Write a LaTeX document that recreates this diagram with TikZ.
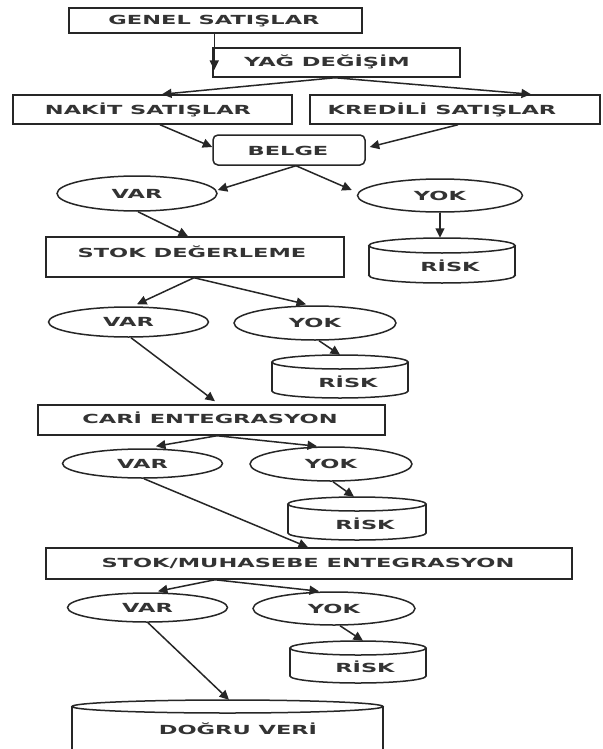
\documentclass[tikz,border=0pt]{standalone}
\usepackage{fontspec}
\newfontfamily\lblfont{DejaVu Sans}[FakeStretch=1.8]
\usetikzlibrary{arrows.meta,calc,shapes.geometric}
\tikzset{
  ln/.style={line width=1.5pt, draw=black!85},
  boxnode/.style={ln, rectangle, inner sep=0pt},
  roundnode/.style={ln, rectangle, rounded corners=5pt, inner sep=0pt},
  ovalnode/.style={ln, ellipse, inner sep=0pt, font=\lblfont\bfseries\fontsize{12.5}{14}\selectfont, text=black!80, text height=9pt, text depth=0pt},
  txt/.style={font=\lblfont\bfseries\fontsize{12.5}{14}\selectfont, text=black!80, inner sep=0pt, text height=9pt, text depth=0pt},
  arr/.style={ln, -{Triangle[length=9.5pt,width=9pt]}},
}
% name, x1, x2, ytop, ybot, ry
\newcommand\cylshape[6]{%
  \node[inner sep=0pt, minimum width={#3-#2}, minimum height={#5-#4}] (#1) at ({(#2+#3)/2},{(#4+#5)/2}) {};
  \draw[ln] (#2,{#4+#6}) -- (#2,{#5-#6});
  \draw[ln] (#3,{#4+#6}) -- (#3,{#5-#6});
  \begin{scope}
    \clip ({#2-3},{#5-#6}) rectangle ({#3+3},{#5+#6+3});
    \draw[ln] ({(#2+#3)/2},{#5-#6}) ellipse[x radius={(#3-#2)/2}, y radius=#6];
  \end{scope}
  \draw[ln] ({(#2+#3)/2},{#4+#6}) ellipse[x radius={(#3-#2)/2}, y radius=#6];
}
\begin{document}
\begin{tikzpicture}[x=1pt,y=-1pt]
\useasboundingbox[fill=white] (0,0) rectangle (602,749);

% boxes
\node[boxnode, minimum width=293, minimum height=25] (g) at (215.5,20.5) {};
\node[txt] (gt) at (214,20.5) {GENEL SATIŞLAR};
\node[boxnode, minimum width=247, minimum height=29] (yag) at (336.5,62.5) {};
\node[txt] (yagt) at (327,62.5) {YAĞ DEĞİŞİM};
\node[boxnode, minimum width=279, minimum height=29] (nak) at (152.5,109.5) {};
\node[txt] (nakt) at (148,109.5) {NAKİT SATIŞLAR};
\node[boxnode, minimum width=290, minimum height=29] (kre) at (455,109.5) {};
\node[txt] (kret) at (442,109.5) {KREDİLİ SATIŞLAR};
\node[roundnode, minimum width=152, minimum height=30] (bel) at (289,150) {};
\node[txt] (belt) at (288,150.5) {BELGE};

\node[ovalnode, minimum width=160, minimum height=35] (v1) at (137,193.5) {VAR};
\node[ovalnode, minimum width=165, minimum height=33] (y1) at (440,195.5) {YOK};
\cylshape{r1}{369}{515}{238}{283}{7.5}
\node[txt] (r1t) at (450,267) {RİSK};

\node[boxnode, minimum width=298, minimum height=40] (stok) at (195,257) {};
\node[txt] (stokt) at (192,253) {STOK DEĞERLEME};

\node[ovalnode, minimum width=160, minimum height=30] (v2) at (128.5,322) {VAR};
\node[ovalnode, minimum width=162, minimum height=34] (y2) at (315,323) {YOK};
\cylshape{r2}{272}{408}{355}{398}{7}
\node[txt] (r2t) at (348,383) {RİSK};

\node[boxnode, minimum width=347, minimum height=30] (cari) at (211.5,420) {};
\node[txt] (carit) at (210,419) {CARİ ENTEGRASYON};

\node[ovalnode, minimum width=160, minimum height=29] (v3) at (142.5,463.5) {VAR};
\node[ovalnode, minimum width=162, minimum height=34] (y3) at (331,464) {YOK};
\cylshape{r3}{288}{426}{497}{540}{7}
\node[txt] (r3t) at (365,525) {RİSK};

\node[boxnode, minimum width=526, minimum height=31] (sm) at (309,563.5) {};
\node[txt] (smt) at (308,563) {STOK/MUHASEBE ENTEGRASYON};

\node[ovalnode, minimum width=160, minimum height=29] (v4) at (147.5,607.5) {VAR};
\node[ovalnode, minimum width=162, minimum height=33] (y4) at (334,608.5) {YOK};
\cylshape{r4}{290}{426}{641}{683}{7}
\node[txt] (r4t) at (365,668) {RİSK};

\cylshape{dv}{72}{383}{700}{756}{6.5}
\node[txt] (dvt) at (238,730) {DOĞRU VERİ};

% connectors
\draw[arr] ($(g.south -| yag.west)+(2,0)$) -- ($(yag.west)+(2,7.5)$);
\draw[arr] ($(yag.south)+(-1.5,0)$) -- ($(nak.north)+(9.5,0)$);
\draw[arr] ($(yag.south)+(-1.5,0)$) -- ($(kre.north)+(76,0)$);
\draw[arr] ($(nak.south)+(7.5,0)$) -- ($(bel.west)+(0,-3)$);
\draw[arr] ($(kre.south)+(3,0)$) -- ($(bel.east)+(4,-3)$);
\draw[arr] ($(bel.south)+(7,0)$) -- ($(v1.east)+(0,-3.5)$);
\draw[arr] ($(bel.south)+(7,0)$) -- ($(y1.west)+(-5,-5.5)$);
\draw[arr] ($(v1.south)+(1,0)$) -- ($(stok.north)+(-7,0)$);
\draw[arr] (y1.south) -- ($(r1.north)+(-2,0)$);
\draw[arr] ($(stok.south)+(-1,0)$) -- ($(v2.north)+(8.5,-2)$);
\draw[arr] ($(stok.south)+(-1,0)$) -- ($(y2.north)+(-9,-1)$);
\draw[arr] ($(v2.south)+(2.5,0)$) -- ($(cari.north)+(3.5,-3)$);
\draw[arr] ($(y2.south)+(4,0)$) -- (r2.north);
\draw[arr] ($(cari.south)+(5.5,0)$) -- ($(v3.north)+(13.5,-2)$);
\draw[arr] ($(cari.south)+(5.5,0)$) -- ($(y3.north)+(-14,0)$);
\draw[arr] ($(v3.south)+(1.5,0)$) -- ($(sm.north)+(-1,0)$);
\draw[arr] ($(y3.south)+(2,0)$) -- ($(r3.north)+(-3,0)$);
\draw[arr] ($(sm.south)+(-94,0)$) -- ($(v4.north)+(10.5,-1)$);
\draw[arr] ($(sm.south)+(-94,0)$) -- ($(y4.north)+(-15,0)$);
\draw[arr] ($(v4.south)+(0.5,0)$) -- ($(dv.north)+(1.5,0)$);
\draw[arr] ($(y4.south)+(6,0)$) -- ($(r4.north)+(5,0)$);
\end{tikzpicture}
\end{document}
